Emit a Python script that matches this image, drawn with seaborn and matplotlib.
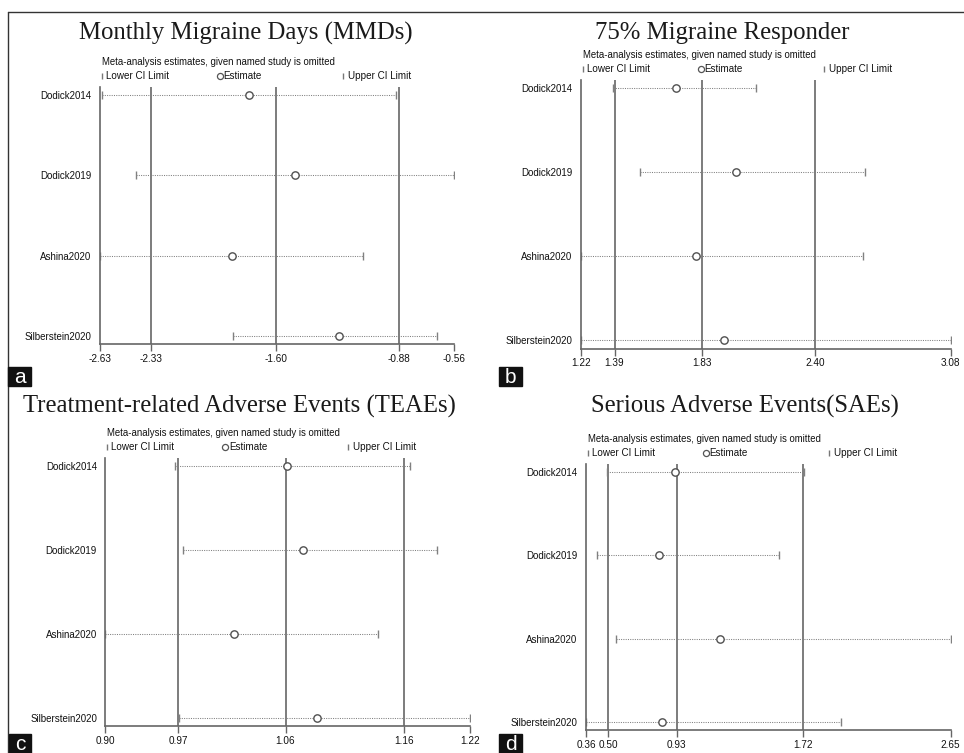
import matplotlib
matplotlib.use("Agg")
import matplotlib.pyplot as plt
from matplotlib.lines import Line2D
from matplotlib.patches import Rectangle
import numpy as np
import pandas as pd
import seaborn as sns

studies = ["Dodick2014", "Dodick2019", "Ashina2020", "Silberstein2020"]

# a: monthly migraine days
mmd_est = [-1.76, -1.49, -1.86, -1.23]
mmd_lo = [-2.62, -2.42, -2.63, -1.85]
mmd_hi = [-0.90, -0.56, -1.09, -0.66]
mmd_ticks = [-2.63, -2.33, -1.60, -0.88, -0.56]
mmd_labels = ["-2.63", "-2.33", "-1.60", "-0.88", "-0.56"]

# b: 75% responder
resp_est = [1.70, 2.00, 1.80, 1.94]
resp_lo = [1.38, 1.52, 1.22, 1.22]
resp_hi = [2.10, 2.65, 2.64, 3.08]
resp_ticks = [1.22, 1.39, 1.83, 2.40, 3.08]
resp_labels = ["1.22", "1.39", "1.83", "2.40", "3.08"]

# c: TEAEs
teae_est = [1.059, 1.073, 1.013, 1.086]
teae_lo = [0.961, 0.968, 0.900, 0.965]
teae_hi = [1.167, 1.191, 1.139, 1.220]
teae_ticks = [0.900, 0.964, 1.058, 1.162, 1.220]
teae_labels = ["0.90", "0.97", "1.06", "1.16", "1.22"]

# d: SAEs
sae_est = [0.92, 0.82, 1.20, 0.84]
sae_lo = [0.49, 0.43, 0.55, 0.36]
sae_hi = [1.73, 1.57, 2.65, 1.96]
sae_ticks = [0.36, 0.50, 0.93, 1.72, 2.65]
sae_labels = ["0.36", "0.50", "0.93", "1.72", "2.65"]

W, H = 964, 753
TXT = "#111111"

sns.set_style("white")
plt.rcParams['font.family'] = ['Liberation Sans', 'DejaVu Sans']

fig = plt.figure(figsize=(W / 100, H / 100), dpi=100)


def fx(x):
    return x / W


def fy(y):
    return 1 - y / H


def panel(box, title, title_xy, est, lo, hi, ticks, labels, letter, letter_xy):
    left, top, right, bottom = box
    ax = fig.add_axes([fx(left), fy(bottom), (right - left) / W, (bottom - top) / H])
    df = pd.DataFrame({"study": studies, "est": est, "lo": lo, "hi": hi})
    df["y"] = np.arange(len(df))

    for t in ticks[1:4]:
        ax.axvline(t, color="#666666", lw=1.2, zorder=1)

    eb = ax.errorbar(df["est"], df["y"], xerr=[df["est"] - df["lo"], df["hi"] - df["est"]],
                     fmt="none", ecolor="#808080", elinewidth=0.75, capsize=2.6, capthick=1.0, zorder=2)
    eb[2][0].set_linestyle((0, (1, 1.2)))
    for cap in eb[1]:
        cap.set_color("#606060")

    sns.scatterplot(data=df, x="est", y="y", marker="o", s=28, facecolor="white",
                    edgecolor="#505050", linewidth=1.0, ax=ax, zorder=3, legend=False)

    ax.set_xlim(ticks[0], ticks[-1])
    ax.set_ylim(3.1, -0.1)
    ax.set_xticks(ticks)
    ax.set_xticklabels(labels)
    ax.set_yticks(df["y"])
    ax.set_yticklabels(studies)
    ax.set_xlabel("")
    ax.set_ylabel("")
    ax.tick_params(axis="x", direction="out", length=5, width=1.0, color="#666666",
                   labelsize=7.2, pad=2, labelcolor=TXT, bottom=True)
    ax.tick_params(axis="y", length=0, labelsize=7, pad=6, labelcolor=TXT)
    for s in ["top", "right"]:
        ax.spines[s].set_visible(False)
    for s in ["left", "bottom"]:
        ax.spines[s].set_color("#666666")
        ax.spines[s].set_linewidth(1.2)

    # title
    fig.text(fx(title_xy[0]), fy(title_xy[1]), title, ha="center", va="baseline",
             family="Liberation Serif", fontsize=17.8, color="#1a1a1a")
    # subtitle and legend
    fig.text(fx(left + 2), fy(top - 25), "Meta-analysis estimates, given named study is omitted",
             ha="left", va="center", fontsize=6.9, color=TXT)
    ly = top - 11
    fig.add_artist(Line2D([fx(left + 2)], [fy(ly)], marker="|", markersize=5, color="#777777",
                          markeredgewidth=1.0, transform=fig.transFigure))
    fig.text(fx(left + 6), fy(ly), "Lower CI Limit", ha="left", va="center", fontsize=7.1, color=TXT)
    fig.add_artist(Line2D([fx(left + 120)], [fy(ly)], marker="o", markersize=4.4, color="#555555",
                          markerfacecolor="none", markeredgewidth=0.9, transform=fig.transFigure))
    fig.text(fx(left + 123.5), fy(ly), "Estimate", ha="left", va="center", fontsize=7.1, color=TXT)
    fig.add_artist(Line2D([fx(left + 243)], [fy(ly)], marker="|", markersize=5, color="#777777",
                          markeredgewidth=1.0, transform=fig.transFigure))
    fig.text(fx(left + 248), fy(ly), "Upper CI Limit", ha="left", va="center", fontsize=7.1, color=TXT)

    # panel letter
    lx, ly0, lx1, ly1 = letter_xy
    fig.add_artist(Rectangle((fx(lx), fy(ly1)), (lx1 - lx) / W, (ly1 - ly0) / H,
                             transform=fig.transFigure, color="#111111", zorder=5))
    fig.text(fx((lx + lx1) / 2), fy((ly0 + ly1) / 2 + 1), letter, ha="center", va="center",
             fontsize=15, color="white", zorder=6)
    return ax


panel((100, 87, 454, 344), "Monthly Migraine Days (MMDs)", (246, 39.5),
      mmd_est, mmd_lo, mmd_hi, mmd_ticks, mmd_labels, "a", (8, 367, 31, 386))
panel((580.7, 80, 950.7, 348.7), "75% Migraine Responder", (722, 39.3),
      resp_est, resp_lo, resp_hi, resp_ticks, resp_labels, "b", (499, 367, 522, 386))
panel((105.3, 458, 470.3, 726.3), "Treatment-related Adverse Events (TEAEs)", (239, 412.7),
      teae_est, teae_lo, teae_hi, teae_ticks, teae_labels, "c", (9, 734, 31, 753))
panel((586, 464, 950.7, 730), "Serious Adverse Events(SAEs)", (745, 412.7),
      sae_est, sae_lo, sae_hi, sae_ticks, sae_labels, "d", (499, 734, 522, 753))

# outer frame of the figure
fig.add_artist(Line2D([fx(8), fx(964)], [fy(12), fy(12)], color="#333333", lw=1.0,
                      transform=fig.transFigure))
fig.add_artist(Line2D([fx(8), fx(8)], [fy(12), fy(753)], color="#333333", lw=1.0,
                      transform=fig.transFigure))

fig.savefig("out.png", dpi=100)
